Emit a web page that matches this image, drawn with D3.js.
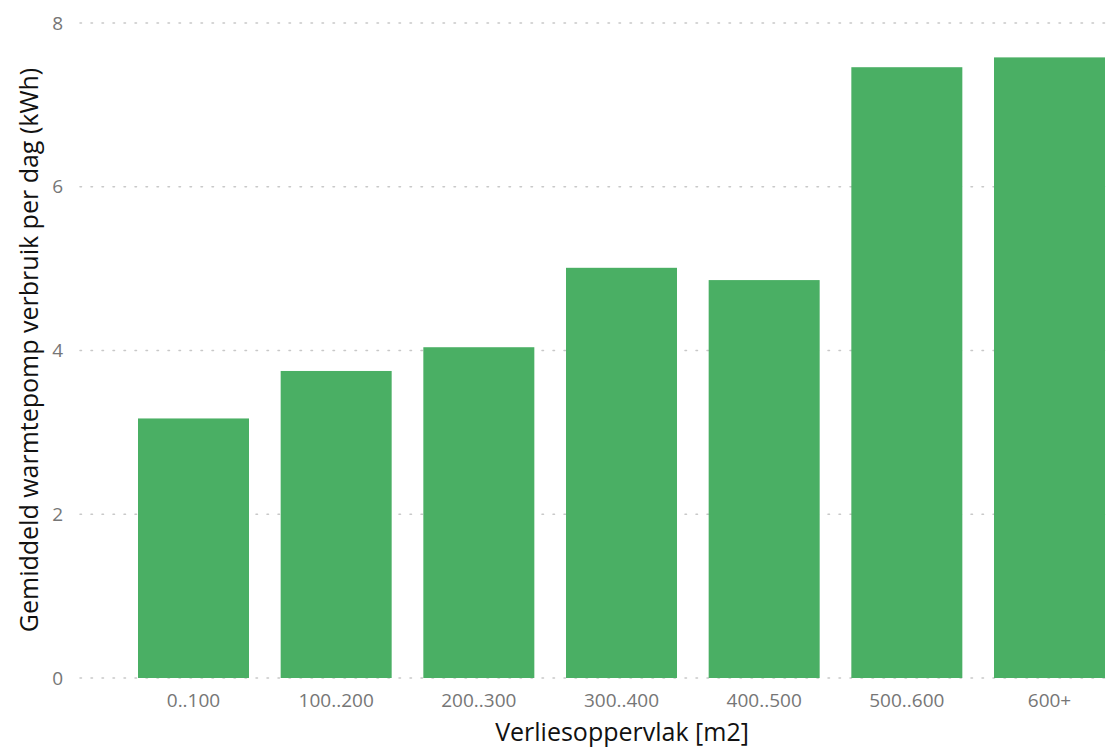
<!DOCTYPE html>
<html>
<head>
<meta charset="utf-8">
<script src="https://cdn.jsdelivr.net/npm/d3@7"></script>
<style>
  body { margin: 0; background: #fff; }
  .tick-label { font-family: "Open Sans", sans-serif; font-size: 19px; fill: #767676; }
  .title { font-family: "Open Sans", sans-serif; font-size: 25px; fill: #111; }
</style>
</head>
<body>
<div id="chart"></div>
<script>
const categories = ['0..100', '100..200', '200..300', '300..400', '400..500', '500..600', '600+'];
const values = [3.17, 3.75, 4.04, 5.01, 4.86, 7.46, 7.58];
const yTicks = [0, 2, 4, 6, 8];

const width = 1117;
const height = 747;

const svg = d3.select('#chart')
  .append('svg')
  .attr('width', width)
  .attr('height', height);

const x = d3.scaleBand()
  .domain(categories)
  .range([138, 1105])
  .paddingInner(0.222)
  .paddingOuter(0);

const y = d3.scaleLinear().domain([0, 8]).range([678, 23]);

// gridlines
svg.append('g')
  .selectAll('line')
  .data(yTicks)
  .join('line')
  .attr('x1', 80)
  .attr('x2', 1112)
  .attr('y1', d => y(d))
  .attr('y2', d => y(d))
  .attr('stroke', '#c8c8c8')
  .attr('stroke-width', 1.5)
  .attr('stroke-dasharray', '1.5,9.5')
  .attr('stroke-linecap', 'round');

// y labels
svg.append('g')
  .selectAll('text')
  .data(yTicks)
  .join('text')
  .attr('class', 'tick-label')
  .attr('x', 63)
  .attr('y', d => y(d))
  .attr('dy', '0.35em')
  .attr('text-anchor', 'end')
  .text(d => d);

// bars
svg.append('g')
  .selectAll('rect')
  .data(values)
  .join('rect')
  .attr('x', (d, i) => x(categories[i]))
  .attr('y', d => y(d))
  .attr('width', x.bandwidth())
  .attr('height', d => y(0) - y(d))
  .attr('fill', '#4aaf64');

// x labels
svg.append('g')
  .selectAll('text')
  .data(categories)
  .join('text')
  .attr('class', 'tick-label')
  .attr('x', d => x(d) + x.bandwidth() / 2)
  .attr('y', 707)
  .attr('text-anchor', 'middle')
  .text(d => d);

// axis titles
svg.append('text')
  .attr('class', 'title')
  .attr('x', 622)
  .attr('y', 741)
  .attr('text-anchor', 'middle')
  .text('Verliesoppervlak [m2]');

svg.append('text')
  .attr('class', 'title')
  .attr('transform', 'translate(38, 350) rotate(-90)')
  .attr('text-anchor', 'middle')
  .text('Gemiddeld warmtepomp verbruik per dag (kWh)');
</script>
</body>
</html>
